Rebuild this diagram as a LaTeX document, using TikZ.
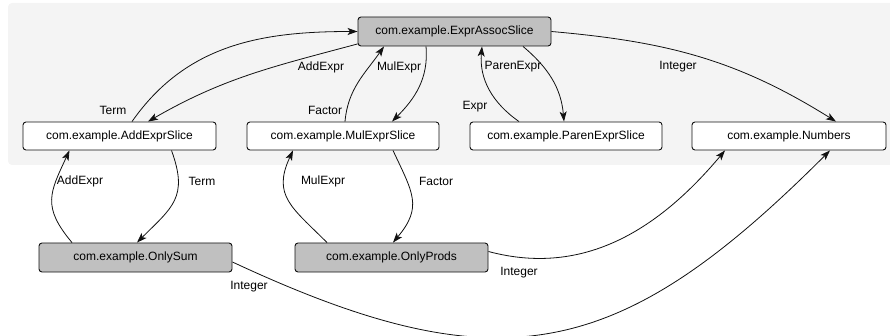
\documentclass[tikz,border=0pt]{standalone}
\usepackage{fontspec}
\setmainfont{Liberation Sans}
\usetikzlibrary{arrows.meta,calc}
\definecolor{bgpanel}{HTML}{F4F4F4}
\definecolor{grayfill}{HTML}{C0C0C0}
\definecolor{edgecol}{HTML}{111111}
\begin{document}
\begin{tikzpicture}[x=1pt,y=-1pt,
  font=\fontsize{12}{14}\selectfont,
  box/.style={draw=edgecol,line width=0.9pt,rounded corners=3pt,fill=white,minimum width=193pt,minimum height=28pt,inner sep=0pt,anchor=center},
  graybox/.style={box,fill=grayfill,minimum height=29pt},
  conn/.style={draw=edgecol,line width=0.8pt,-{Stealth[length=10pt,width=7pt,inset=2.5pt]}},
  lbl/.style={inner sep=0pt,anchor=center,text=black}]
\useasboundingbox (0,0) rectangle (890,336);
\fill[bgpanel,rounded corners=4pt] (8,3) rectangle (896,165);

\node[graybox] (EA) at (454.5,31.5) {com.example.ExprAssocSlice};
\node[box] (AE) at (119.5,136) {com.example.AddExprSlice};
\node[box,minimum width=192pt] (ME) at (343,136) {com.example.MulExprSlice};
\node[box,minimum width=192pt] (PE) at (566,136) {com.example.ParenExprSlice};
\node[box,minimum width=194pt] (NU) at (789,136) {com.example.Numbers};
\node[graybox] (OS) at (135.5,257.5) {com.example.OnlySum};
\node[graybox] (OP) at (391.5,257.5) {com.example.OnlyProds};

% top group
\draw[conn] ($(AE.north)+(12.5,0)$) to[out=55,in=180] ($(EA.west)+(0,0)$);
\draw[conn] ($(EA.south west)+(0,-2.5)$) to[out=195,in=30] ($(AE.north)+(28.5,0)$);
\draw[conn] ($(ME.north)+(2,0)$) to[out=85,in=235] ($(EA.south)+(-70.5,0)$);
\draw[conn] ($(EA.south)+(-28.5,0)$) to[out=-85,in=45] ($(ME.north)+(49,0)$);
\draw[conn] ($(PE.north)+(-47,0)$) to[out=145,in=-95] ($(EA.south)+(27.5,0)$);
\draw[conn] ($(EA.south)+(68.5,0)$) to[out=-40,in=95] ($(PE.north)+(-2,0)$);
\draw[conn] (EA.east) to[out=-5,in=148] ($(NU.north)+(47,0)$);

% bottom group
\draw[conn] ($(OS.north)+(-63.5,0)$) to[out=130,in=-115,looseness=1.3] ($(AE.south)+(-50,0)$);
\draw[conn] ($(AE.south)+(52,0)$) to[out=-70,in=45,looseness=1.3] ($(OS.north)+(1.5,0)$);
\draw[conn] ($(OP.north)+(-64.5,0)$) to[out=135,in=-115,looseness=1.3] ($(ME.south)+(-50,0)$);
\draw[conn] ($(ME.south)+(50,0)$) to[out=-65,in=50,looseness=1.3] ($(OP.north)+(1.5,0)$);
\draw[conn] ($(OP.east)+(0,-6)$) to[out=-15,in=-130] ($(NU.south)+(-64,0)$);
\draw[conn] ($(OS.east)+(0,4.5)$) to[out=-25,in=-135,looseness=1.25] ($(NU.south)+(41,0)$);

% labels
\node[lbl] (l1) at (113,110) {Term};
\node[lbl] (l2) at (321,67) {AddExpr};
\node[lbl] (l3) at (399,67) {MulExpr};
\node[lbl] (l4) at (325,110) {Factor};
\node[lbl] (l5) at (513,67) {ParenExpr};
\node[lbl] (l6) at (475,107) {Expr};
\node[lbl] (l7) at (678,67) {Integer};
\node[lbl] (l8) at (80,181) {AddExpr};
\node[lbl] (l9) at (202,181) {Term};
\node[lbl] (l10) at (323,181) {MulExpr};
\node[lbl] (l11) at (436,181) {Factor};
\node[lbl] (l12) at (519,273) {Integer};
\node[lbl] (l13) at (249,287) {Integer};
\end{tikzpicture}
\end{document}
